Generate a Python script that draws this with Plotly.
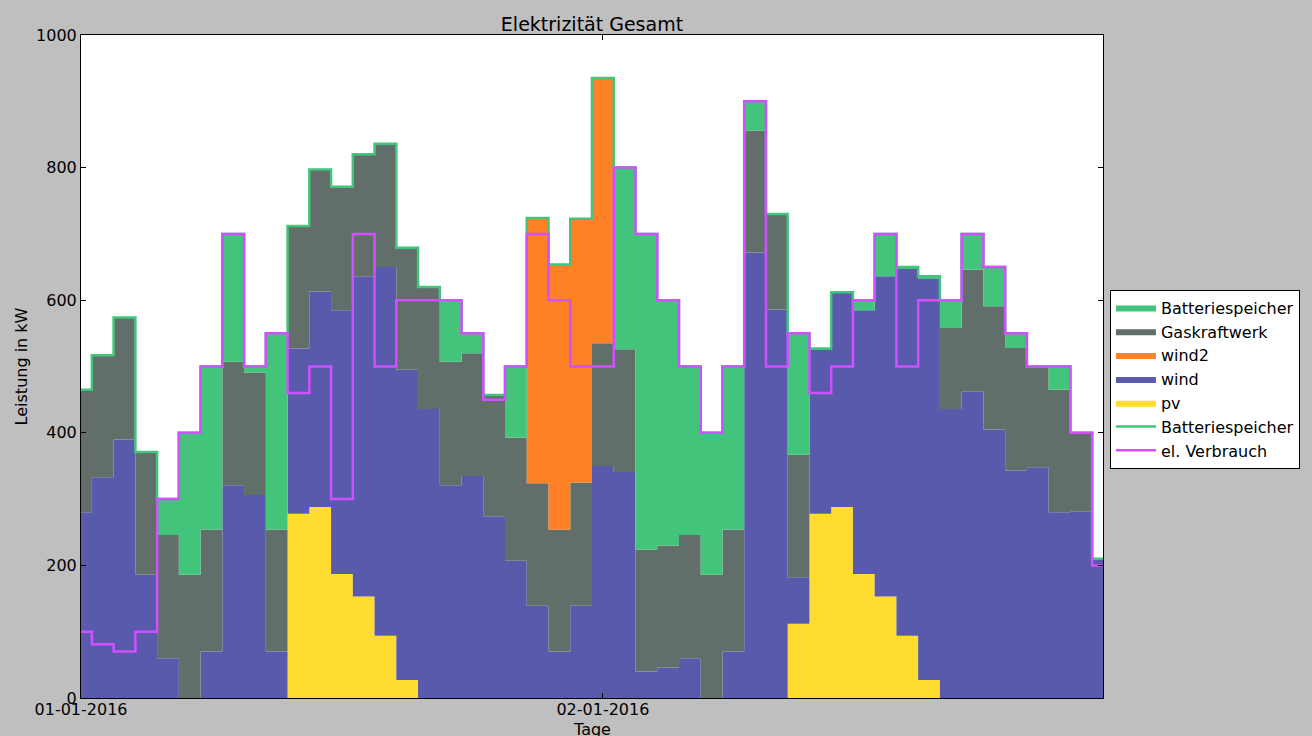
import plotly.graph_objects as go
import pandas as pd

hours = pd.date_range("2016-01-01 00:00", periods=48, freq="h")
x = [h.strftime("%Y-%m-%d %H:%M") for h in hours]

pv = [0, 0, 0, 0, 0, 0, 0, 0, 0, 0, 278, 288, 187, 153, 94, 27, 0, 0, 0, 0, 0, 0, 0, 0,
      0, 0, 0, 0, 0, 0, 0, 0, 0, 112, 278, 288, 187, 153, 94, 27, 0, 0, 0, 0, 0, 0, 0, 0]
wind = [280, 333, 390, 186, 60, 0, 70, 321, 306, 70, 249, 325, 398, 483, 556, 468, 436, 321, 335, 274, 207, 139, 70, 139,
        350, 341, 40, 46, 60, 0, 70, 672, 586, 70, 247, 324, 398, 483, 553, 605, 436, 462, 405, 343, 348, 280, 281, 210]
gas = [185, 184, 184, 185, 186, 186, 184, 186, 185, 184, 185, 184, 186, 184, 186, 184, 184, 186, 185, 183, 186, 185, 184, 186,
       185, 185, 184, 184, 186, 186, 184, 184, 144, 185, 0, 0, 0, 0, 0, 0, 122, 184, 186, 185, 152, 185, 119, 0]
wind2 = [0] * 21 + [400, 400, 398, 400] + [0] * 23
battery = [0, 0, 0, 0, 54, 214, 246, 193, 9, 296, 0, 0, 0, 0, 0, 0, 0, 93, 30, 0, 107, 0, 0, 0,
           0, 274, 476, 370, 254, 214, 246, 44, 0, 182, 2, 0, 15, 64, 3, 4, 42, 54, 59, 22, 0, 35, 0, 0]
verbrauch = [100, 81, 70, 100, 300, 400, 500, 700, 500, 550, 460, 500, 300, 700, 500, 600, 600, 600, 550, 450, 500, 700, 600, 500,
             500, 800, 700, 600, 500, 400, 500, 900, 500, 550, 460, 500, 600, 700, 500, 600, 600, 700, 650, 550, 500, 500, 400, 200]

total = [a + b + c + d + e for a, b, c, d, e in zip(pv, wind, gas, wind2, battery)]

C_BAT = "#42C57A"
C_GAS = "#626E69"
C_W2 = "#FF8125"
C_WIND = "#5A5AAC"
C_PV = "#FEDD30"
C_VERB = "#D050FF"

fig = go.Figure()
stack = [("pv", pv, C_PV, 5), ("wind", wind, C_WIND, 4), ("Gaskraftwerk", gas, C_GAS, 2),
         ("wind2", wind2, C_W2, 3), ("Batteriespeicher", battery, C_BAT, 1)]
for name, vals, col, rank in stack:
    fig.add_trace(go.Scatter(x=x, y=vals, name=name, stackgroup="one", mode="lines",
                             line=dict(color=col, width=0, shape="hvh"), fillcolor=col,
                             legendrank=rank))
fig.add_trace(go.Scatter(x=x, y=total, name="Batteriespeicher", mode="lines",
                         line=dict(color=C_BAT, width=2.5, shape="hvh"), legendrank=6))
fig.add_trace(go.Scatter(x=x, y=verbrauch, name="el. Verbrauch", mode="lines",
                         line=dict(color=C_VERB, width=2.5, shape="hvh"), legendrank=7))

fig.update_layout(
    width=1312, height=736,
    paper_bgcolor="#BFBFBF", plot_bgcolor="white",
    margin=dict(l=81, r=209, t=35, b=38),
    font=dict(family="DejaVu Sans", size=16, color="black"),
    title=dict(text="Elektrizität Gesamt", x=(81 + 1103) / 2 / 1312, xanchor="center",
               y=1 - 24 / 736, yanchor="middle", yref="container", font=dict(size=19)),
    showlegend=True,
    legend=dict(x=1.0068, xanchor="left", y=0.481, yanchor="middle",
                bgcolor="white", bordercolor="black", borderwidth=1, itemwidth=40,
                font=dict(size=16), tracegroupgap=0, traceorder="normal"),
    annotations=[dict(text="Tage", xref="paper", yref="paper", x=0.5, y=-(729 - 698) / 663,
                      xanchor="center", yanchor="middle", showarrow=False, font=dict(size=16))],
)
fig.update_xaxes(
    type="date", range=[x[0], x[-1]], automargin=False,
    tickvals=["2016-01-01 00:00", "2016-01-02 00:00"], ticktext=["01-01-2016", "02-01-2016"],
    ticks="inside", ticklen=5, tickcolor="black", showline=True, linecolor="black", linewidth=1,
    mirror="allticks", showgrid=False, zeroline=False, ticklabelstandoff=-3,
)
fig.update_yaxes(
    range=[0, 1000], tickvals=[0, 200, 400, 600, 800, 1000], automargin=False,
    ticks="inside", ticklen=5, tickcolor="black", showline=True, linecolor="black", linewidth=1,
    mirror="allticks", showgrid=False, zeroline=False,
    title=dict(text="Leistung in kW", standoff=4, font=dict(size=16)),
)

fig.write_html("out.html", config={"displayModeBar": False},
               post_script="document.body.style.margin='0';document.body.style.overflow='hidden';")
